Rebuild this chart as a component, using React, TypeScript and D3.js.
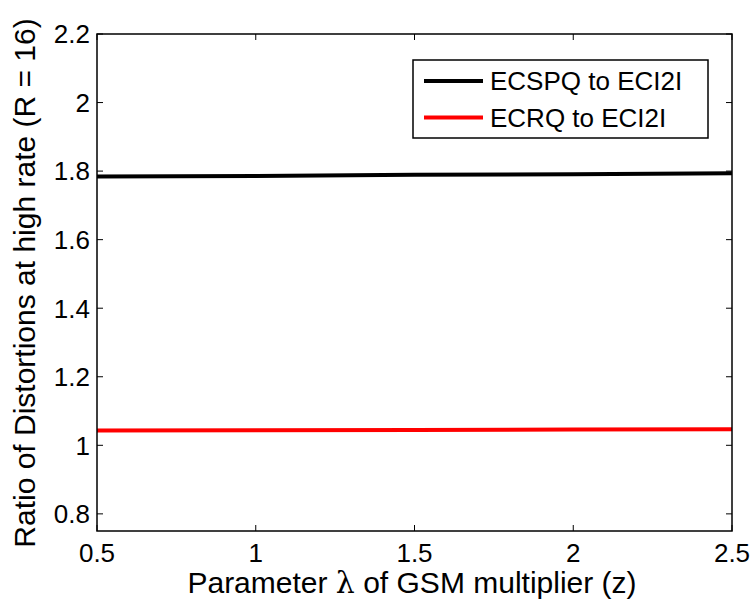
import React from 'react';
import * as d3 from 'd3';

const lambdas = [0.5, 1, 1.5, 2, 2.5];
const ecspqRatio = [1.784, 1.786, 1.789, 1.791, 1.794];
const ecrqRatio = [1.043, 1.044, 1.045, 1.046, 1.047];
const xTicks = [0.5, 1, 1.5, 2, 2.5];
const yTicks = [0.8, 1, 1.2, 1.4, 1.6, 1.8, 2, 2.2];
const seriesNames = ['ECSPQ to ECI2I', 'ECRQ to ECI2I'];
const seriesColors = ['#000000', '#ff0000'];

const svgWidth = 755, svgHeight = 603;
const plot = { left: 97, right: 732, top: 34, bottom: 531 };
const font = 'Liberation Sans, Arial, Helvetica, sans-serif';

const App = () => {
  const xScale = d3.scaleLinear().domain([0.5, 2.5]).range([plot.left, plot.right]);
  const yScale = d3.scaleLinear().domain([0.75, 2.2]).range([plot.bottom, plot.top]);

  const line = d3.line<number>()
    .x((_, i) => xScale(lambdas[i]))
    .y(d => yScale(d));

  const series = [ecspqRatio, ecrqRatio];
  const tickLen = 6;

  return <svg width={svgWidth} height={svgHeight}
    style={{ position: 'absolute', left: 0, top: 0, background: '#fff' }}>
    <rect x={0} y={0} width={svgWidth} height={svgHeight} fill='#fff' />

    {/* lines */}
    {series.map((s, i) => (
      <path key={i} d={line(s) || ''} fill='none' stroke={seriesColors[i]} strokeWidth={4} />
    ))}

    {/* box */}
    <rect x={plot.left} y={plot.top} width={plot.right - plot.left} height={plot.bottom - plot.top}
      fill='none' stroke='#000' strokeWidth={1.5} />

    {/* x ticks */}
    {xTicks.map(x => (
      <g key={x}>
        <line x1={xScale(x)} x2={xScale(x)} y1={plot.bottom} y2={plot.bottom - tickLen} stroke='#000' />
        <line x1={xScale(x)} x2={xScale(x)} y1={plot.top} y2={plot.top + tickLen} stroke='#000' />
        <text x={xScale(x)} y={562} textAnchor='middle' fontFamily={font} fontSize={26}>{x}</text>
      </g>
    ))}

    {/* y ticks */}
    {yTicks.map(y => (
      <g key={y}>
        <line x1={plot.left} x2={plot.left + tickLen} y1={yScale(y)} y2={yScale(y)} stroke='#000' />
        <line x1={plot.right} x2={plot.right - tickLen} y1={yScale(y)} y2={yScale(y)} stroke='#000' />
        <text x={plot.left - 7} y={yScale(y)} dy='0.36em' textAnchor='end' fontFamily={font} fontSize={26}>{y}</text>
      </g>
    ))}

    {/* axis titles */}
    <text x={412} y={593} textAnchor='middle' fontFamily={font} fontSize={30}>
      Parameter <tspan fontFamily='DejaVu Serif, serif'>λ</tspan> of GSM multiplier (z)
    </text>
    <text transform={`translate(35, 283) rotate(-90)`} textAnchor='middle'
      fontFamily={font} fontSize={30}>Ratio of Distortions at high rate (R = 16)</text>

    {/* legend */}
    <g>
      <rect x={413} y={60} width={295} height={78} fill='#fff' stroke='#000' strokeWidth={1.5} />
      {seriesNames.map((name, i) => (
        <g key={name}>
          <line x1={424} x2={483} y1={81 + i * 36.5} y2={81 + i * 36.5} stroke={seriesColors[i]} strokeWidth={4} />
          <text x={490} y={81 + i * 36.5} dy='0.36em' fontFamily={font} fontSize={26}>{name}</text>
        </g>
      ))}
    </g>
  </svg>;
};

export default App;
